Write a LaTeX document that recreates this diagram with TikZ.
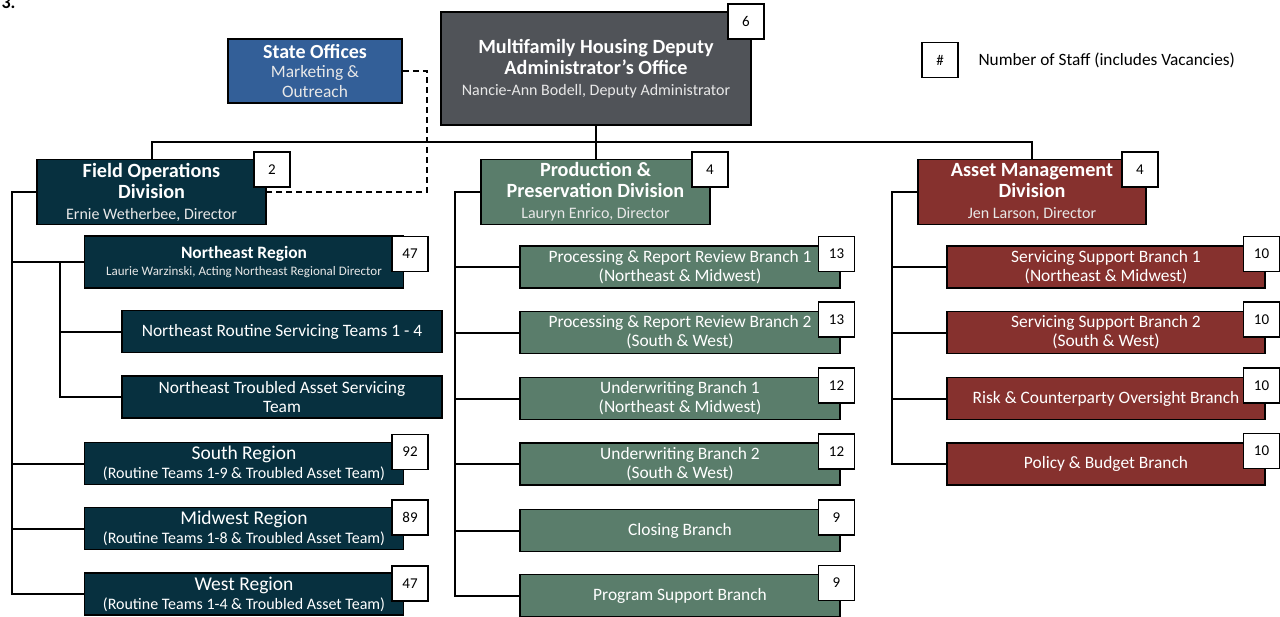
\documentclass[tikz,border=0pt]{standalone}
\usepackage{fontspec}
\setmainfont{Carlito}
\definecolor{depgray}{HTML}{505358}
\definecolor{stateblue}{HTML}{335F98}
\definecolor{navy}{HTML}{07303F}
\definecolor{sage}{HTML}{5A7D6B}
\definecolor{maroon}{HTML}{86312E}
\definecolor{subwhite}{HTML}{E8E8E8}
\newcommand{\ttl}{\bfseries\fontsize{20.2}{21}\selectfont}
\newcommand{\subt}{\mdseries\color{subwhite}\fontsize{16}{21}\selectfont}
\begin{document}
\begin{tikzpicture}[x=1pt,y=-1pt,
  box/.style={draw=black,line width=1.6pt,text=white,align=center,inner sep=0pt,
    font=\fontsize{17.4}{19}\selectfont},
  badge/.style={draw=black,line width=1.6pt,fill=white,text=black,inner sep=0pt,
    minimum width=36,minimum height=35,font=\fontsize{15}{17}\selectfont},
  conn/.style={draw=black,line width=2pt},
  branch/.style={box,minimum width=320,minimum height=42},
  region/.style={box,fill=navy,minimum width=319,minimum height=42,font=\fontsize{19.5}{19}\selectfont}
]
\useasboundingbox (0,0) rectangle (1280,616);
\node[anchor=base west,font=\bfseries\fontsize{18}{18}\selectfont] (frag) at (-2,8) {3.};

% top
\node[box,fill=depgray,minimum width=310,minimum height=113,font=\ttl] (dep) at (596,68.5)
  {Multifamily Housing Deputy\\Administrator’s Office\\{\subt Nancie-Ann Bodell, Deputy Administrator}};
\node[badge] (bdep) at (746,21.5) {6};

\node[box,fill=stateblue,minimum width=174,minimum height=64,font=\fontsize{17.4}{19.5}\selectfont] (so) at (315,71)
  {{\bfseries\fontsize{20}{19.5}\selectfont State Offices}\\{\color{subwhite}Marketing \&}\\{\color{subwhite}Outreach}};

% legend
\node[badge] (leg) at (940,60) {\#};
\node[anchor=west,font=\fontsize{17.3}{18}\selectfont] (legtext) at (975,60) {Number of Staff (includes Vacancies)};

% divisions
\node[box,fill=navy,minimum width=229,minimum height=65,font=\ttl] (fo) at (151.5,192)
  {Field Operations\\Division\\{\subt Ernie Wetherbee, Director}};
\node[badge] (bfo) at (272,169.5) {2};
\node[box,fill=sage,minimum width=229,minimum height=65,font=\ttl] (pp) at (595.5,192)
  {Production \&\\Preservation Division\\{\subt Lauryn Enrico, Director}};
\node[badge] (bpp) at (710,169.5) {4};
\node[box,fill=maroon,minimum width=228,minimum height=65,font=\ttl] (am) at (1032,192)
  {Asset Management\\Division\\{\subt Jen Larson, Director}};
\node[badge] (bam) at (1140,169.5) {4};

% field operations children
\node[box,fill=navy,minimum width=319,minimum height=52,font=\fontsize{17.4}{16.5}\selectfont] (ne) at (244,262)
  {{\bfseries Northeast Region}\\{\color{subwhite}\fontsize{13}{16.5}\selectfont Laurie Warzinski, Acting Northeast Regional Director}};
\node[badge] (bne) at (410,254) {47};
\node[box,fill=navy,minimum width=320,minimum height=42] (nerout) at (282,331.5)
  {Northeast Routine Servicing Teams 1 - 4};
\node[box,fill=navy,minimum width=320,minimum height=42] (netr) at (282,397)
  {Northeast Troubled Asset Servicing\\Team};
\node[region] (south) at (244,463.5)
  {South Region\\{\fontsize{16}{19}\selectfont (Routine Teams 1-9 \& Troubled Asset Team)}};
\node[badge] (bsouth) at (410,452) {92};
\node[region] (mid) at (244,528.5)
  {Midwest Region\\{\fontsize{16}{19}\selectfont (Routine Teams 1-8 \& Troubled Asset Team)}};
\node[badge] (bmid) at (410,517.5) {89};
\node[region] (west) at (244,594)
  {West Region\\{\fontsize{16}{19}\selectfont (Routine Teams 1-4 \& Troubled Asset Team)}};
\node[badge] (bwest) at (410,583.5) {47};

% production children
\node[branch,fill=sage] (prr1) at (680,267) {Processing \& Report Review Branch 1\\(Northeast \& Midwest)};
\node[badge] (bprr1) at (836.5,254) {13};
\node[branch,fill=sage] (prr2) at (680,332.5) {Processing \& Report Review Branch 2\\(South \& West)};
\node[badge] (bprr2) at (836.5,319.5) {13};
\node[branch,fill=sage] (uw1) at (680,398.5) {Underwriting Branch 1\\(Northeast \& Midwest)};
\node[badge] (buw1) at (836.5,385.5) {12};
\node[branch,fill=sage] (uw2) at (680,464) {Underwriting Branch 2\\(South \& West)};
\node[badge] (buw2) at (836.5,451.5) {12};
\node[branch,fill=sage] (clo) at (680,530.5) {Closing Branch};
\node[badge] (bclo) at (836.5,517.5) {9};
\node[branch,fill=sage] (psb) at (680,595.5) {Program Support Branch};
\node[badge] (bpsb) at (836.5,583) {9};

% asset management children
\node[branch,fill=maroon,minimum width=318] (ss1) at (1106,267) {Servicing Support Branch 1\\(Northeast \& Midwest)};
\node[badge] (bss1) at (1261.5,254) {10};
\node[branch,fill=maroon,minimum width=318] (ss2) at (1106,332.5) {Servicing Support Branch 2\\(South \& West)};
\node[badge] (bss2) at (1261.5,319.5) {10};
\node[branch,fill=maroon,minimum width=318] (risk) at (1106,398.5) {Risk \& Counterparty Oversight Branch};
\node[badge] (brisk) at (1261.5,385.5) {10};
\node[branch,fill=maroon,minimum width=318] (pol) at (1106,464) {Policy \& Budget Branch};
\node[badge] (bpol) at (1261.5,451) {10};

% connectors
\coordinate (bus) at (596,142);
\draw[conn] (dep.south) -- (dep.south |- pp.north);
\draw[conn] (fo.north) |- (bus) -| (am.north);
\draw[conn,dashed,dash pattern=on 6pt off 4pt,line width=1.5pt] (so.east) -- (427,71) |- (fo.east);

% field operations tree
\coordinate (fot) at (12,192);
\draw[conn] (fo.west) -- (fot) |- (west.west);
\draw[conn] (fot |- ne.west) -- (ne.west);
\draw[conn] (fot |- south.west) -- (south.west);
\draw[conn] (fot |- mid.west) -- (mid.west);
\coordinate (net) at (60,262);
\draw[conn] (net) |- (netr.west);
\draw[conn] (net |- nerout.west) -- (nerout.west);

% production tree
\coordinate (ppt) at (455,192);
\draw[conn] (pp.west) -- (ppt) |- (psb.west);
\foreach \n in {prr1,prr2,uw1,uw2,clo}{\draw[conn] (ppt |- \n.west) -- (\n.west);}

% asset tree
\coordinate (amt) at (892,192);
\draw[conn] (am.west) -- (amt) |- (pol.west);
\foreach \n in {ss1,ss2,risk}{\draw[conn] (amt |- \n.west) -- (\n.west);}
\end{tikzpicture}
\end{document}
